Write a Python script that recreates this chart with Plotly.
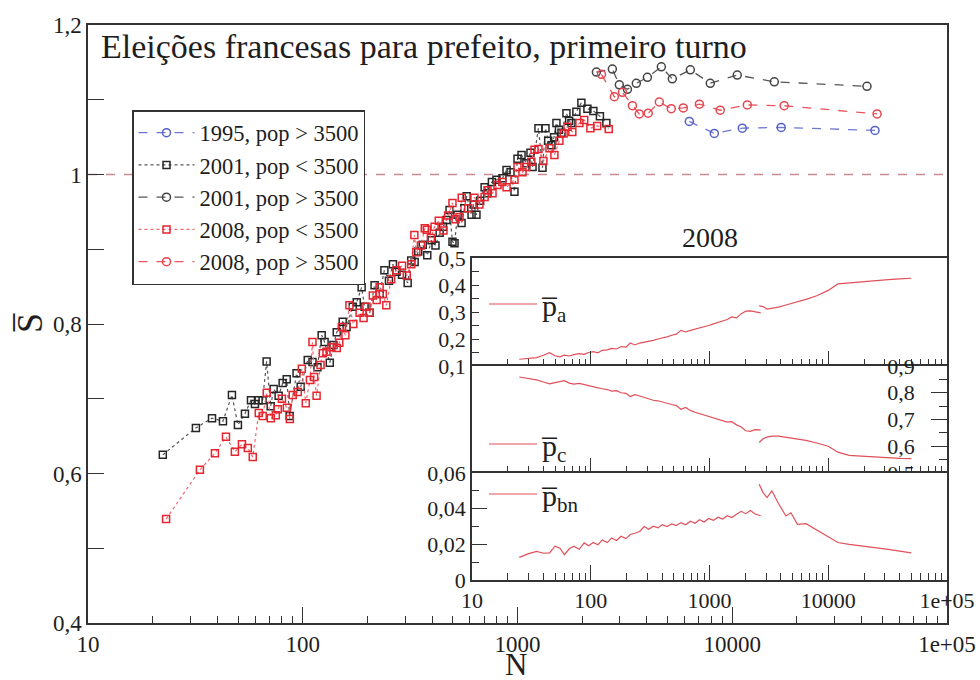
import plotly.graph_objects as go

# ---------------- main data ----------------
N_2001_small = [22.3, 31.8, 37.8, 42.5, 46.8, 49.9, 53.8, 57.4, 59.9, 62.3, 65.0, 67.9, 70.9, 73.2, 77.2,
                80.6, 84.2, 86.9, 93.6, 97.8, 105.5, 111, 117, 122.5, 126.4, 133.6, 139, 144, 153.5, 160,
                171, 178.4, 188, 194, 205, 216, 228, 240, 252, 263, 273, 290, 308, 320, 332, 345, 362,
                380, 398, 415, 434, 450, 467, 482.6, 498, 509, 526, 549, 565, 580, 611, 625, 644, 670,
                703, 725, 760, 798, 851, 889, 928, 968, 1000, 1044, 1100, 1149, 1175, 1252, 1307, 1350,
                1390, 1439, 1480, 1518, 1560, 1602, 1690, 1740, 1783, 1880, 1984, 2116, 2256, 2420, 2593]
S_2001_small = [0.625, 0.661, 0.674, 0.670, 0.705, 0.665, 0.680, 0.698, 0.693, 0.698, 0.698, 0.750, 0.690,
                0.713, 0.704, 0.721, 0.726, 0.677, 0.734, 0.716, 0.752, 0.749, 0.742, 0.785, 0.776, 0.748,
                0.772, 0.789, 0.803, 0.796, 0.823, 0.829, 0.849, 0.823, 0.815, 0.852, 0.840, 0.872, 0.858,
                0.880, 0.870, 0.866, 0.855, 0.885, 0.883, 0.897, 0.906, 0.892, 0.912, 0.905, 0.922, 0.930,
                0.939, 0.9525, 0.910, 0.908, 0.946, 0.935, 0.955, 0.971, 0.946, 0.960, 0.946, 0.965, 0.983,
                0.975, 0.990, 0.993, 0.995, 1.006, 1.003, 0.977, 1.021, 1.026, 1.015, 1.029, 1.010, 1.062,
                1.009, 1.062, 1.045, 1.039, 1.050, 1.069, 1.060, 1.056, 1.082, 1.072, 1.069, 1.084, 1.096,
                1.088, 1.085, 1.078, 1.069]

N_2008_small = [23.1, 33.2, 39.0, 43.9, 48.3, 52.1, 55.5, 58.5, 62.4, 65.1, 68.0, 71.0, 74.9, 76.5, 80.0,
                84.3, 87.1, 89.8, 94.8, 99, 103.3, 108, 111, 113, 116, 121, 124, 129, 136, 144, 148, 152,
                158, 165, 172, 184, 192, 198, 205, 212, 221, 228, 236, 245, 258, 273, 290, 305, 320, 331,
                338, 355, 370, 378, 395, 411, 430, 452, 475, 498, 515, 537, 550, 590, 630, 665, 703, 725,
                765, 807, 850, 889, 968, 1000, 1055, 1100, 1160, 1200, 1252, 1320, 1409, 1485, 1567, 1640,
                1710, 1800, 1942, 2045, 2185, 2350, 2660]
S_2008_small = [0.539, 0.605, 0.627, 0.649, 0.629, 0.639, 0.634, 0.622, 0.681, 0.677, 0.708, 0.674, 0.678,
                0.686, 0.700, 0.688, 0.673, 0.705, 0.709, 0.740, 0.694, 0.725, 0.776, 0.729, 0.704, 0.745,
                0.761, 0.763, 0.769, 0.768, 0.775, 0.796, 0.785, 0.825, 0.800, 0.815, 0.808, 0.823, 0.815,
                0.838, 0.832, 0.849, 0.840, 0.825, 0.860, 0.872, 0.878, 0.865, 0.880, 0.919, 0.896, 0.905,
                0.928, 0.926, 0.915, 0.930, 0.938, 0.925, 0.945, 0.962, 0.940, 0.943, 0.969, 0.955, 0.969,
                0.960, 0.970, 0.979, 0.975, 0.986, 0.990, 0.983, 0.993, 1.010, 1.003, 1.010, 1.017, 1.033,
                1.034, 1.018, 1.035, 1.026, 1.045, 1.055, 1.064, 1.057, 1.069, 1.073, 1.062, 1.065, 1.061]

N_1995_large = [6310, 8250, 11140, 16900, 46200]
S_1995_large = [1.071, 1.055, 1.062, 1.063, 1.059]

N_2001_large = [2330, 2765, 2980, 3250, 3575, 4025, 4675, 5260, 6380, 7900, 10550, 15700, 42400]
S_2001_large = [1.137, 1.141, 1.120, 1.114, 1.122, 1.130, 1.144, 1.128, 1.140, 1.122, 1.133, 1.124, 1.118]

N_2008_large = [2460, 2825, 3080, 3430, 3690, 4060, 4575, 5200, 5915, 7030, 8790, 11750, 17450, 47250]
S_2008_large = [1.134, 1.104, 1.110, 1.092, 1.081, 1.082, 1.097, 1.088, 1.089, 1.094, 1.086, 1.093, 1.092, 1.081]

# ---------------- inset data (2008) ----------------
N_in_small = [25, 30, 35, 40, 45, 50, 55, 60, 66, 72, 80, 88, 96, 105, 115, 125, 138, 150, 165, 180, 198,
              215, 235, 258, 282, 308, 336, 368, 400, 440, 480, 525, 575, 630, 690, 755, 825, 900, 985,
              1080, 1180, 1290, 1410, 1540, 1690, 1850, 2020, 2210, 2420, 2700]
pa_small = [0.125, 0.128, 0.131, 0.140, 0.149, 0.138, 0.134, 0.140, 0.137, 0.142, 0.146, 0.143, 0.150, 0.153,
            0.149, 0.158, 0.160, 0.165, 0.163, 0.172, 0.170, 0.185, 0.178, 0.185, 0.188, 0.192, 0.195, 0.200,
            0.203, 0.208, 0.214, 0.218, 0.232, 0.226, 0.232, 0.236, 0.241, 0.246, 0.250, 0.256, 0.262, 0.268,
            0.272, 0.282, 0.278, 0.294, 0.303, 0.304, 0.300, 0.297]
pc_small = [0.859, 0.853, 0.848, 0.840, 0.833, 0.838, 0.842, 0.845, 0.836, 0.832, 0.835, 0.830, 0.826, 0.822,
            0.818, 0.815, 0.812, 0.806, 0.808, 0.800, 0.798, 0.786, 0.793, 0.788, 0.782, 0.778, 0.772, 0.770,
            0.765, 0.760, 0.756, 0.752, 0.738, 0.745, 0.734, 0.727, 0.722, 0.716, 0.712, 0.706, 0.700, 0.694,
            0.690, 0.692, 0.680, 0.672, 0.658, 0.656, 0.662, 0.661]
pbn_small = [0.0127, 0.0148, 0.0160, 0.0150, 0.0152, 0.0190, 0.0178, 0.0142, 0.0175, 0.0190, 0.0172, 0.0208,
             0.0192, 0.0210, 0.0198, 0.0225, 0.0210, 0.0236, 0.0222, 0.0245, 0.0232, 0.0255, 0.0262, 0.0272,
             0.0300, 0.0285, 0.0302, 0.0292, 0.0310, 0.0300, 0.0315, 0.0305, 0.0322, 0.0310, 0.0330, 0.0318,
             0.0338, 0.0325, 0.0345, 0.0335, 0.0352, 0.0342, 0.0360, 0.0350, 0.0368, 0.0385, 0.0372, 0.0390,
             0.0370, 0.0360]

N_in_large = [2620, 2825, 3050, 3350, 3800, 4400, 4850, 5500, 6500, 8000, 10000, 12050, 15000, 19000,
              24000, 32000, 40000, 50000]
pa_large = [0.323, 0.320, 0.311, 0.313, 0.318, 0.326, 0.331, 0.337, 0.347, 0.360, 0.380, 0.404, 0.408,
            0.412, 0.416, 0.420, 0.423, 0.425]
pc_large = [0.614, 0.628, 0.634, 0.638, 0.638, 0.634, 0.631, 0.627, 0.622, 0.612, 0.600, 0.578, 0.566,
            0.563, 0.560, 0.557, 0.555, 0.554]
pbn_large = [0.0537, 0.0490, 0.0462, 0.0500, 0.0430, 0.0359, 0.0377, 0.0312, 0.0316, 0.0280, 0.0240,
             0.0210, 0.0200, 0.0192, 0.0182, 0.0172, 0.0162, 0.0152]

decades = [10, 100, 1000, 10000, 100000]
decade_text = ["10", "100", "1000", "10000", "1e+05"]
minor_log = [m * d for d in [10, 100, 1000, 10000] for m in range(2, 10)]

# ---------------- styling ----------------
W, H = 980, 680
def px(x): return x / W
def py(y): return 1 - y / H

SERIF = "Liberation Serif"
TXT = "#1e1e1e"
FR = "#333333"
BLACK = "#262626"
RED = "#e5252f"
BLUE = "#5561c8"
INSET_RED = "#e0505a"

fig = go.Figure()

fig.add_trace(go.Scatter(x=N_2001_small, y=S_2001_small, mode="lines+markers", name="2001, pop < 3500",
                         line=dict(color="#555555", width=1.2, dash="dot"), legendrank=2,
                         marker=dict(symbol="square-open", size=7, color=BLACK, line=dict(width=1.5))))
fig.add_trace(go.Scatter(x=N_2008_small, y=S_2008_small, mode="lines+markers", name="2008, pop < 3500",
                         line=dict(color="#ef6a70", width=1.2, dash="dot"), legendrank=4,
                         marker=dict(symbol="square-open", size=7, color=RED, line=dict(width=1.5))))
fig.add_trace(go.Scatter(x=N_2001_large, y=S_2001_large, mode="lines+markers", name="2001, pop > 3500",
                         line=dict(color="#555555", width=1.3, dash="dash"), legendrank=3,
                         marker=dict(symbol="circle-open", size=8, color="#444444", line=dict(width=1.5))))
fig.add_trace(go.Scatter(x=N_2008_large, y=S_2008_large, mode="lines+markers", name="2008, pop > 3500",
                         line=dict(color="#e8545d", width=1.3, dash="dash"), legendrank=5,
                         marker=dict(symbol="circle-open", size=8, color="#e8454f", line=dict(width=1.5))))
fig.add_trace(go.Scatter(x=N_1995_large, y=S_1995_large, mode="lines+markers", name="1995, pop > 3500",
                         line=dict(color="#6f78cf", width=1.3, dash="dash"), legendrank=1,
                         marker=dict(symbol="circle-open", size=8, color=BLUE, line=dict(width=1.5))))

fig.add_hline(y=1.0, line=dict(color="#c98a90", width=1.3, dash="dash"), layer="below")

# inset traces
inset = [("x2", "y2", pa_small, pa_large, "p\u0305<sub>a</sub>", "legend2"),
         ("x3", "y3", pc_small, pc_large, "p\u0305<sub>c</sub>", "legend3"),
         ("x4", "y4", pbn_small, pbn_large, "p\u0305<sub>bn</sub>", "legend4")]
for xa, ya, vs, vl, name, leg in inset:
    fig.add_trace(go.Scatter(x=N_in_small, y=vs, mode="lines", xaxis=xa, yaxis=ya, name=name,
                             legend=leg, line=dict(color=INSET_RED, width=1.2)))
    fig.add_trace(go.Scatter(x=N_in_large, y=vl, mode="lines", xaxis=xa, yaxis=ya, showlegend=False,
                             line=dict(color=INSET_RED, width=1.2)))

axis_common = dict(showline=True, linecolor=FR, linewidth=1.5, mirror=True, showgrid=False,
                   zeroline=False, ticks="inside", tickcolor=FR, tickwidth=1.3, automargin=False)

inset_x = dict(axis_common, type="log", range=[1, 5], domain=[px(472), px(947)],
               tickvals=decades, ticktext=decade_text, ticklen=15,
               minor=dict(ticks="inside", tickvals=minor_log, ticklen=7, tickcolor=FR, tickwidth=1.2),
               tickfont=dict(family=SERIF, size=22, color=TXT))

inset_legend = dict(xanchor="left", yanchor="middle", bgcolor="rgba(0,0,0,0)",
                    font=dict(family=SERIF, size=30, color=TXT), itemwidth=48)

fig.update_layout(
    width=W, height=H, margin=dict(l=0, r=0, t=0, b=0, autoexpand=False),
    paper_bgcolor="white", plot_bgcolor="white",
    font=dict(family=SERIF, color=TXT),
    xaxis=dict(axis_common, type="log", range=[1, 5], domain=[px(88), px(947)], anchor="y",
               tickvals=decades, ticktext=decade_text, ticklen=16,
               minor=dict(ticks="inside", tickvals=minor_log, ticklen=7, tickcolor=FR, tickwidth=1.2),
               tickfont=dict(family=SERIF, size=23, color=TXT)),
    yaxis=dict(axis_common, range=[0.4, 1.2], domain=[py(623), py(25)], anchor="x",
               tickvals=[0.4, 0.6, 0.8, 1.0, 1.2], ticktext=["0,4", "0,6", "0,8", "1", "1,2"], ticklen=16,
               minor=dict(ticks="inside", dtick=0.1, tick0=0.4, ticklen=16, tickcolor=FR, tickwidth=1.3),
               tickfont=dict(family=SERIF, size=23, color=TXT)),
    xaxis2=dict(inset_x, anchor="y2", showticklabels=False),
    xaxis3=dict(inset_x, anchor="y3", showticklabels=False, matches="x2"),
    xaxis4=dict(inset_x, anchor="y4", matches="x2"),
    yaxis2=dict(axis_common, range=[0.1, 0.5], domain=[py(366), py(258)], anchor="x2",
                tickvals=[0.1, 0.2, 0.3, 0.4, 0.5], ticktext=["0,1", "0,2", "0,3", "0,4", "0,5"], ticklen=7,
                minor=dict(ticks="inside", dtick=0.05, tick0=0.1, ticklen=7, tickcolor=FR),
                tickfont=dict(family=SERIF, size=22, color=TXT)),
    yaxis3=dict(axis_common, range=[0.5, 0.9], domain=[py(473), py(366)], anchor="x3", side="right",
                ticklabelposition="inside", ticklabeloverflow="allow", ticklabelstandoff=18,
                tickvals=[0.5, 0.6, 0.7, 0.8, 0.9], ticktext=["0,5", "0,6", "0,7", "0,8", "0,9"], ticklen=16,
                minor=dict(ticks="inside", dtick=0.05, tick0=0.5, ticklen=8, tickcolor=FR),
                tickfont=dict(family=SERIF, size=22, color=TXT)),
    yaxis4=dict(axis_common, range=[0, 0.06], domain=[py(580), py(473)], anchor="x4",
                tickvals=[0, 0.02, 0.04, 0.06], ticktext=["0", "0,02", "0,04", "0,06"], ticklen=15,
                minor=dict(ticks="inside", dtick=0.01, tick0=0, ticklen=7, tickcolor=FR),
                tickfont=dict(family=SERIF, size=22, color=TXT)),
    legend=dict(x=px(132), y=py(110), xanchor="left", yanchor="top", bgcolor="white",
                bordercolor=FR, borderwidth=1.5, font=dict(family=SERIF, size=22.5, color=TXT),
                itemwidth=56, tracegroupgap=0, traceorder="normal"),
    legend2=dict(inset_legend, x=px(484), y=py(304)),
    legend3=dict(inset_legend, x=px(484), y=py(444)),
    legend4=dict(inset_legend, x=px(484), y=py(494)),
)

fig.add_annotation(text="Eleições francesas para prefeito, primeiro turno", xref="paper", yref="paper",
                   x=px(99), y=py(47), xanchor="left", yanchor="middle", showarrow=False,
                   font=dict(family=SERIF, size=34, color=TXT))
fig.add_annotation(text="2008", xref="paper", yref="paper", x=px(710), y=py(237), xanchor="center",
                   yanchor="middle", showarrow=False, font=dict(family=SERIF, size=28, color=TXT))
fig.add_annotation(text="N", xref="paper", yref="paper", x=px(516), y=py(664), xanchor="center",
                   yanchor="middle", showarrow=False, font=dict(family=SERIF, size=31, color=TXT))
fig.add_annotation(text="S\u0305", xref="paper", yref="paper", x=px(30), y=py(323), xanchor="center",
                   yanchor="middle", showarrow=False, textangle=-90,
                   font=dict(family=SERIF, size=36, color=TXT))

fig.write_html("out.html")
